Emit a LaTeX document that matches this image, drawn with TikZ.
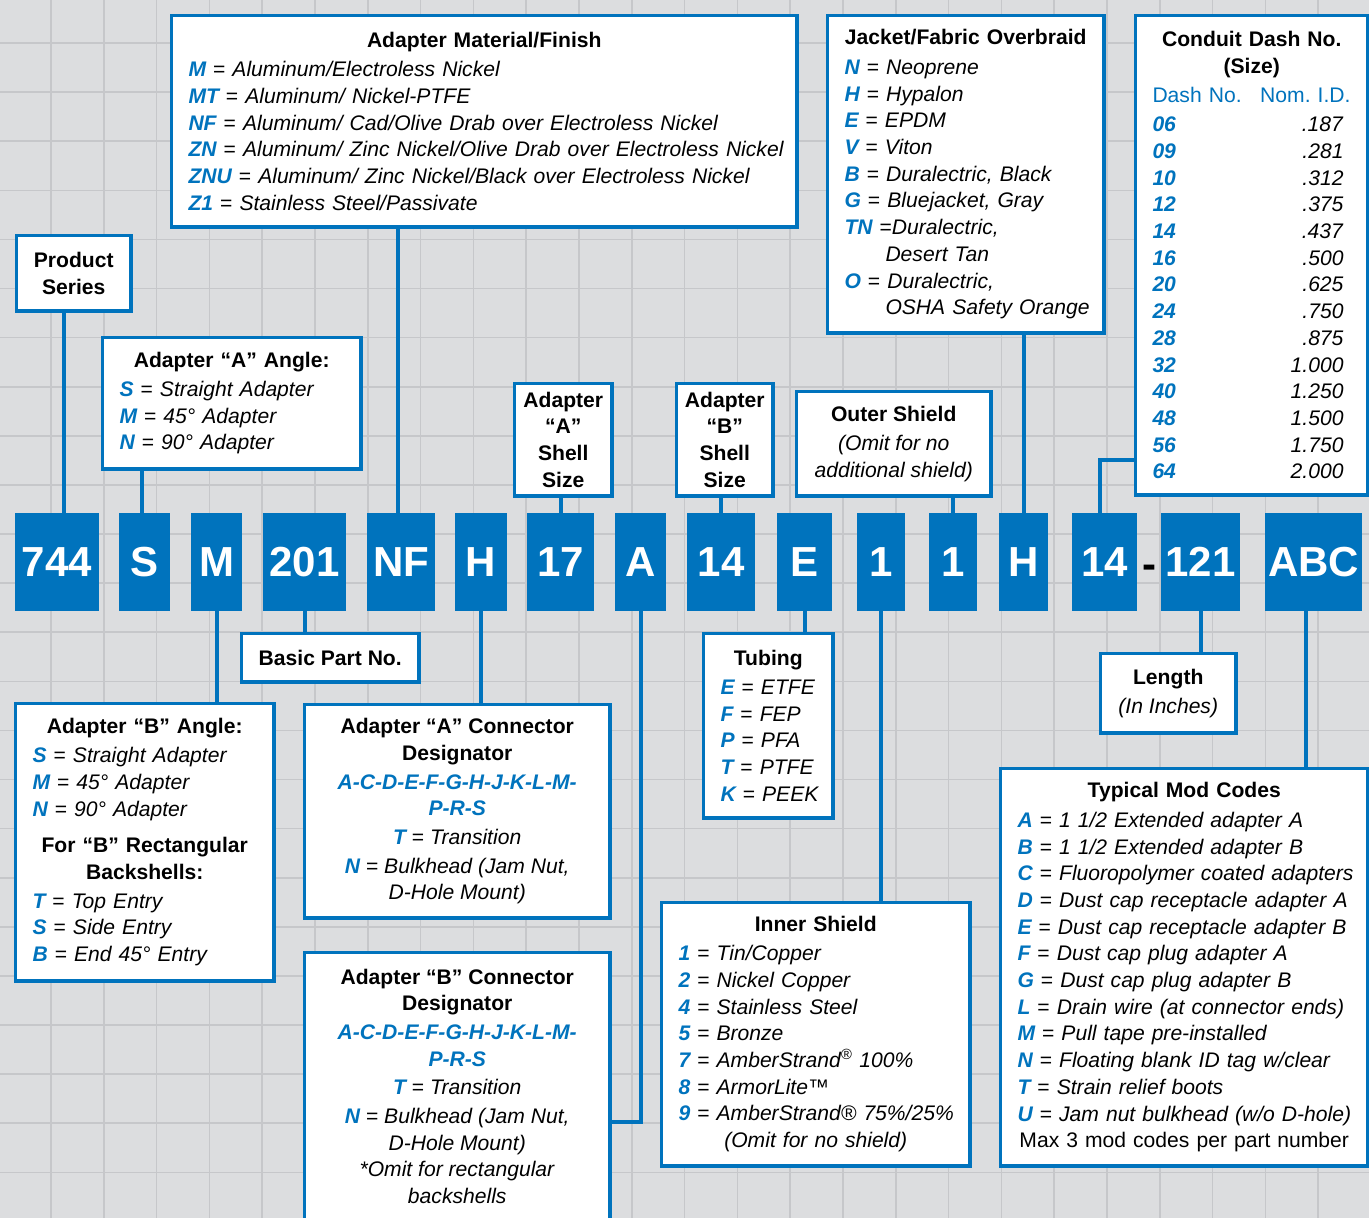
\documentclass[tikz,border=0pt]{standalone}
\usepackage{fontspec}
\setmainfont{Liberation Sans}
\usepackage{xcolor}
\usetikzlibrary{positioning,calc}
\definecolor{blueM}{HTML}{0073BD}
\definecolor{bgGray}{HTML}{DCDDDF}
\definecolor{gridGray}{HTML}{C6C7CA}
\newcommand{\bodyfont}{\fontsize{21.1}{26.7}\selectfont}
\newcommand{\cd}[1]{\textcolor{blueM}{\bfseries\itshape #1}}
\newcommand{\itm}[2]{\mbox{\cd{#1} = \textit{#2}}}
\newcommand{\ttl}[1]{\makebox[\linewidth]{\bfseries #1}}
\newcommand{\ctr}[1]{\makebox[\linewidth]{#1}}
\newcommand{\drow}[2]{\makebox[191pt]{\cd{#1}\hfill\textit{#2}}}
\newcommand{\cont}[1]{\mbox{\hspace*{41pt}\textit{#1}}}

\begin{document}
\begin{tikzpicture}[x=1pt, y=-1pt,
  box/.style={draw=blueM, line width=3.5pt, fill=white, anchor=north west,
    xshift=1.75pt, yshift=-1.75pt, inner xsep=17pt, inner ysep=0pt, font=\bodyfont},
  lbox/.style={box, align=left},
  cbox/.style={box, align=center, inner xsep=2pt},
  code/.style={fill=blueM, text=white, inner sep=0pt, minimum height=98pt,
    font=\bfseries\fontsize{42}{42}\selectfont},
  conn/.style={draw=blueM, line width=4pt},
  gridln/.style={draw=gridGray, line width=1.6pt}
]
\useasboundingbox (0,0) rectangle (1369,1218);
\fill[bgGray] (0,0) rectangle (1369,1218);
\foreach \i in {0,...,25}
  \draw[gridln] ({51+\i*52.8},0) -- ({51+\i*52.8},1218);
\foreach \j in {0,...,24}
  \draw[gridln] (0,{43+\j*49.1}) -- (1369,{43+\j*49.1});

% part number row
\node[code, minimum width=84pt] (c744) at (57,562) {744};
\node[code, minimum width=51pt] (cS) at (144.5,562) {S};
\node[code, minimum width=51pt] (cM) at (216.5,562) {M};
\node[code, minimum width=83pt] (c201) at (304.5,562) {201};
\node[code, minimum width=68pt] (cNF) at (401,562) {NF};
\node[code, minimum width=52pt] (cHa) at (481,562) {H};
\node[code, minimum width=67pt] (c17) at (560.5,562) {17};
\node[code, minimum width=51pt] (cA) at (640.5,562) {A};
\node[code, minimum width=68pt] (c14a) at (721,562) {14};
\node[code, minimum width=55pt] (cE) at (804.5,562) {E};
\node[code, minimum width=48pt] (cIn) at (881,562) {1};
\node[code, minimum width=48pt] (cOut) at (953,562) {1};
\node[code, minimum width=49pt] (cJk) at (1023.5,562) {H};
\node[code, minimum width=65pt] (c14b) at (1104.5,562) {14};
\node[anchor=base, inner sep=0pt, font=\bfseries\fontsize{42}{42}\selectfont] (hyph) at (1149,578) {-};
\node[code, minimum width=79pt] (c121) at (1200.5,562) {121};
\node[code, minimum width=97pt] (cABC) at (1313.5,562) {ABC};

% boxes above the row
\node[cbox, font=\bodyfont\bfseries, minimum width=114.5pt, minimum height=75.5pt] (series) at (13,232) {Product\\Series};
\node[lbox, text width=224.5pt, minimum height=131.5pt] (angleA) at (99,334) {%
  \ttl{Adapter “A” Angle:}\\[2pt]
  \itm{S}{Straight Adapter}\\
  \itm{M}{45° Adapter}\\
  \itm{N}{90° Adapter}};
\node[lbox, text width=591.5pt, minimum height=211.5pt] (material) at (168,12) {%
  \ttl{Adapter Material/Finish}\\[3pt]
  \itm{M}{Aluminum/Electroless Nickel}\\
  \itm{MT}{Aluminum/ Nickel-PTFE}\\
  \itm{NF}{Aluminum/ Cad/Olive Drab over Electroless Nickel}\\
  \itm{ZN}{Aluminum/ Zinc Nickel/Olive Drab over Electroless Nickel}\\
  \itm{ZNU}{Aluminum/ Zinc Nickel/Black over Electroless Nickel}\\
  \itm{Z1}{Stainless Steel/Passivate}};
\node[cbox, font=\bodyfont\bfseries, minimum width=97.5pt, minimum height=112.5pt] (shellA) at (511,380) {Adapter\\“A”\\Shell\\Size};
\node[cbox, font=\bodyfont\bfseries, minimum width=96.5pt, minimum height=112.5pt] (shellB) at (673,380) {Adapter\\“B”\\Shell\\Size};
\node[cbox, minimum width=194.5pt, minimum height=104.5pt] (outer) at (793,388) {%
  \textbf{Outer Shield}\\[3pt]
  \textit{(Omit for no}\\
  \textit{additional shield)}};
\node[lbox, text width=242.5pt, minimum height=317.5pt] (jacket) at (824,12) {%
  \ttl{Jacket/Fabric Overbraid}\\[3pt]
  \itm{N}{Neoprene}\\
  \itm{H}{Hypalon}\\
  \itm{E}{EPDM}\\
  \itm{V}{Viton}\\
  \itm{B}{Duralectric, Black}\\
  \itm{G}{Bluejacket, Gray}\\
  \mbox{\cd{TN} =\textit{Duralectric,}}\\
  \cont{Desert Tan}\\
  \itm{O}{Duralectric,}\\
  \cont{OSHA Safety Orange}};
\node[lbox, text width=198.5pt, minimum height=479.5pt] (dash) at (1132,12) {%
  \ttl{Conduit Dash No.}\\
  \ttl{(Size)}\\[2pt]
  \makebox[198pt][l]{\color{blueM}Dash No.\hfill Nom.\ I.D.}\\[3pt]
  \drow{06}{.187}\\
  \drow{09}{.281}\\
  \drow{10}{.312}\\
  \drow{12}{.375}\\
  \drow{14}{.437}\\
  \drow{16}{.500}\\
  \drow{20}{.625}\\
  \drow{24}{.750}\\
  \drow{28}{.875}\\
  \drow{32}{1.000}\\
  \drow{40}{1.250}\\
  \drow{48}{1.500}\\
  \drow{56}{1.750}\\
  \drow{64}{2.000}};

% boxes below the row
\node[cbox, font=\bodyfont\bfseries, minimum width=177.5pt, minimum height=48.5pt] (basic) at (238,630) {Basic Part No.};
\node[lbox, text width=224.5pt, minimum height=277.5pt] (angleB) at (12,700) {%
  \ttl{Adapter “B” Angle:}\\[2pt]
  \itm{S}{Straight Adapter}\\
  \itm{M}{45° Adapter}\\
  \itm{N}{90° Adapter}\\[10pt]
  \ttl{For “B” Rectangular}\\
  \ttl{Backshells:}\\[2pt]
  \itm{T}{Top Entry}\\
  \itm{S}{Side Entry}\\
  \itm{B}{End 45° Entry}};
\node[cbox, minimum width=305.5pt, minimum height=213.5pt] (connA) at (301,701) {%
  \textbf{Adapter “A” Connector}\\
  \textbf{Designator}\\[2pt]
  \cd{A-C-D-E-F-G-H-J-K-L-M-}\\
  \cd{P-R-S}\\[2pt]
  \cd{T} = \textit{Transition}\\[2pt]
  \cd{N} = \textit{Bulkhead (Jam Nut,}\\
  \textit{D-Hole Mount)}};
\node[cbox, minimum width=305.5pt, minimum height=267.5pt] (connB) at (301,949) {%
  \textbf{Adapter “B” Connector}\\
  \textbf{Designator}\\[2pt]
  \cd{A-C-D-E-F-G-H-J-K-L-M-}\\
  \cd{P-R-S}\\[2pt]
  \cd{T} = \textit{Transition}\\[2pt]
  \cd{N} = \textit{Bulkhead (Jam Nut,}\\
  \textit{D-Hole Mount)}\\
  \textit{*Omit for rectangular}\\
  \textit{backshells}};
\node[lbox, text width=95.5pt, minimum height=184.5pt] (tubing) at (700,630) {%
  \ttl{Tubing}\\[2pt]
  \itm{E}{ETFE}\\
  \itm{F}{FEP}\\
  \itm{P}{PFA}\\
  \itm{T}{PTFE}\\
  \itm{K}{PEEK}};
\node[lbox, text width=274.5pt, minimum height=263.5pt] (inner) at (658,899) {%
  \ttl{Inner Shield}\\[2pt]
  \itm{1}{Tin/Copper}\\
  \itm{2}{Nickel Copper}\\
  \itm{4}{Stainless Steel}\\
  \itm{5}{Bronze}\\
  \itm{7}{AmberStrand\textsuperscript{®} 100\%}\\
  \itm{8}{ArmorLite™}\\
  \itm{9}{AmberStrand® 75\%/25\%}\\
  \ctr{\textit{(Omit for no shield)}}};
\node[cbox, minimum width=135.5pt, minimum height=79.5pt] (length) at (1097,650) {%
  \textbf{Length}\\[2pt]
  \textit{(In Inches)}};
\node[lbox, text width=333.5pt, minimum height=397.5pt] (mods) at (997,765) {%
  \ttl{Typical Mod Codes}\\[3pt]
  \itm{A}{1 1/2 Extended adapter A}\\
  \itm{B}{1 1/2 Extended adapter B}\\
  \itm{C}{Fluoropolymer coated adapters}\\
  \itm{D}{Dust cap receptacle adapter A}\\
  \itm{E}{Dust cap receptacle adapter B}\\
  \itm{F}{Dust cap plug adapter A}\\
  \itm{G}{Dust cap plug adapter B}\\
  \itm{L}{Drain wire (at connector ends)}\\
  \itm{M}{Pull tape pre-installed}\\
  \itm{N}{Floating blank ID tag w/clear}\\
  \itm{T}{Strain relief boots}\\
  \itm{U}{Jam nut bulkhead (w/o D-hole)}\\
  \ctr{Max 3 mod codes per part number}};

% connectors
\draw[conn] (series.south -| 64,0) -- (c744.north -| 64,0);
\draw[conn] (angleA.south -| 142,0) -- (cS.north -| 142,0);
\draw[conn] (material.south -| 398,0) -- (cNF.north -| 398,0);
\draw[conn] (cM.south) -- (angleB.north -| cM);
\draw[conn] (c201.south) -- (basic.north -| c201);
\draw[conn] (cHa.south) -- (connA.north -| cHa);
\draw[conn] (c17.north) -- (shellA.south -| c17);
\draw[conn] (cA.south) |- (connB.east |- 0,1122);
\draw[conn] (c14a.north) -- (shellB.south -| c14a);
\draw[conn] (cE.south) -- (tubing.north -| cE);
\draw[conn] (cIn.south) -- (inner.north -| cIn);
\draw[conn] (cOut.north) -- (outer.south -| cOut);
\draw[conn] (cJk.north) -- (jacket.south -| cJk);
\draw[conn] (c14b.north -| 1100,0) |- (dash.west |- 0,460);
\draw[conn] (c121.south) -- (length.north -| c121);
\draw[conn] (cABC.south -| 1306,0) -- (mods.north -| 1306,0);
\end{tikzpicture}
\end{document}
